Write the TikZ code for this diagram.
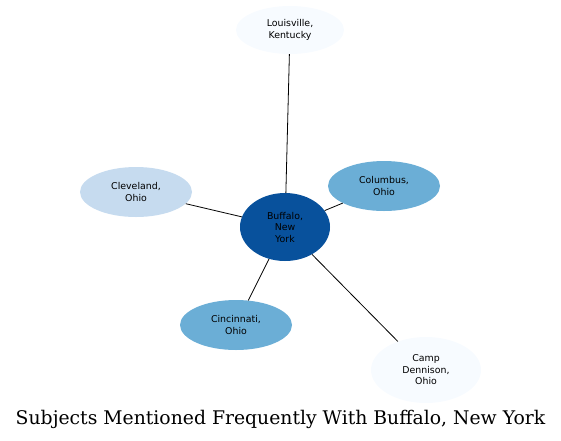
\documentclass[tikz,border=0pt]{standalone}
\usepackage{fontspec}
\setmainfont{DejaVu Serif}
\newfontfamily\labelfont{DejaVu Sans}
\usetikzlibrary{shapes.geometric}
\definecolor{blueA}{HTML}{F7FBFF}
\definecolor{blueB}{HTML}{C6DBEF}
\definecolor{blueC}{HTML}{6BAED6}
\definecolor{blueD}{HTML}{08519C}
\tikzset{
    subjnode/.style={ellipse, draw=none, align=center, inner sep=0pt,
        font=\labelfont\fontsize{9.4}{11.5}\selectfont},
    subjedge/.style={draw=black, line width=0.8pt}
}
\begin{document}
\begin{tikzpicture}[x=1pt, y=-1pt]
\useasboundingbox (0,0) rectangle (561,440);
\node[subjnode, fill=blueD, minimum width=90pt, minimum height=68pt] (buffalo) at (285,227) {Buffalo,\\New\\York};
\node[subjnode, fill=blueA, minimum width=108pt, minimum height=48pt] (louisville) at (290,30) {Louisville,\\Kentucky};
\node[subjnode, fill=blueC, minimum width=112pt, minimum height=50pt] (columbus) at (384,186) {Columbus,\\Ohio};
\node[subjnode, fill=blueB, minimum width=112pt, minimum height=50pt] (cleveland) at (136,192) {Cleveland,\\Ohio};
\node[subjnode, fill=blueC, minimum width=112pt, minimum height=50pt] (cincinnati) at (236,325) {Cincinnati,\\Ohio};
\node[subjnode, fill=blueA, minimum width=110pt, minimum height=66pt] (camp) at (426,370) {Camp\\Dennison,\\Ohio};
\draw[subjedge] (louisville) -- (buffalo);
\draw[subjedge] (cleveland) -- (buffalo);
\draw[subjedge] (columbus) -- (buffalo);
\draw[subjedge] (cincinnati) -- (buffalo);
\draw[subjedge] (camp) -- (buffalo);
\node[font=\fontsize{18.8}{21}\selectfont] (title) at (280.5,419) {Subjects Mentioned Frequently With Buffalo, New York};
\end{tikzpicture}
\end{document}
